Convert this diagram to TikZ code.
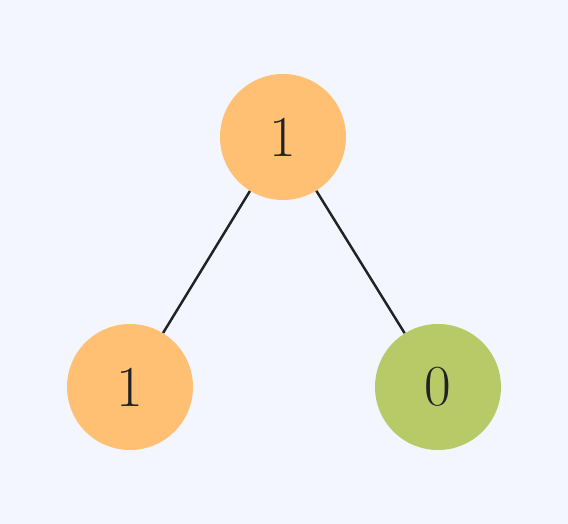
\documentclass[tikz,border=0pt]{standalone}
\usepackage{tikz}
\usetikzlibrary{positioning, backgrounds}
\definecolor{Cbg}{HTML}{F3F6FE}
\definecolor{Cone}{HTML}{FFC073}
\definecolor{Czero}{HTML}{B8C968}
\definecolor{Cink}{HTML}{222222}
\tikzset{
  bit/.style={circle, draw=none, minimum size=2.52cm, inner sep=0pt,
    text=Cink, font=\fontsize{33}{40}\selectfont},
  onebit/.style={bit, fill=Cone},
  zerobit/.style={bit, fill=Czero},
  edge/.style={draw=Cink, line width=1.4pt},
}
\begin{document}
\begin{tikzpicture}

%% canvas, 0.02cm per pixel
\fill[Cbg] (0,0) rectangle (11.36,-10.48);
\useasboundingbox (0,0) rectangle (11.36,-10.48);

%% tree nodes
\node[onebit]  (root)  at (5.66, -2.74) {1};
\node[onebit]  (left)  at (2.60, -7.74) {1};
\node[zerobit] (right) at (8.76, -7.74) {0};

%% branches
\draw[edge] (root) -- (left);
\draw[edge] (root) -- (right);

\end{tikzpicture}
\end{document}
